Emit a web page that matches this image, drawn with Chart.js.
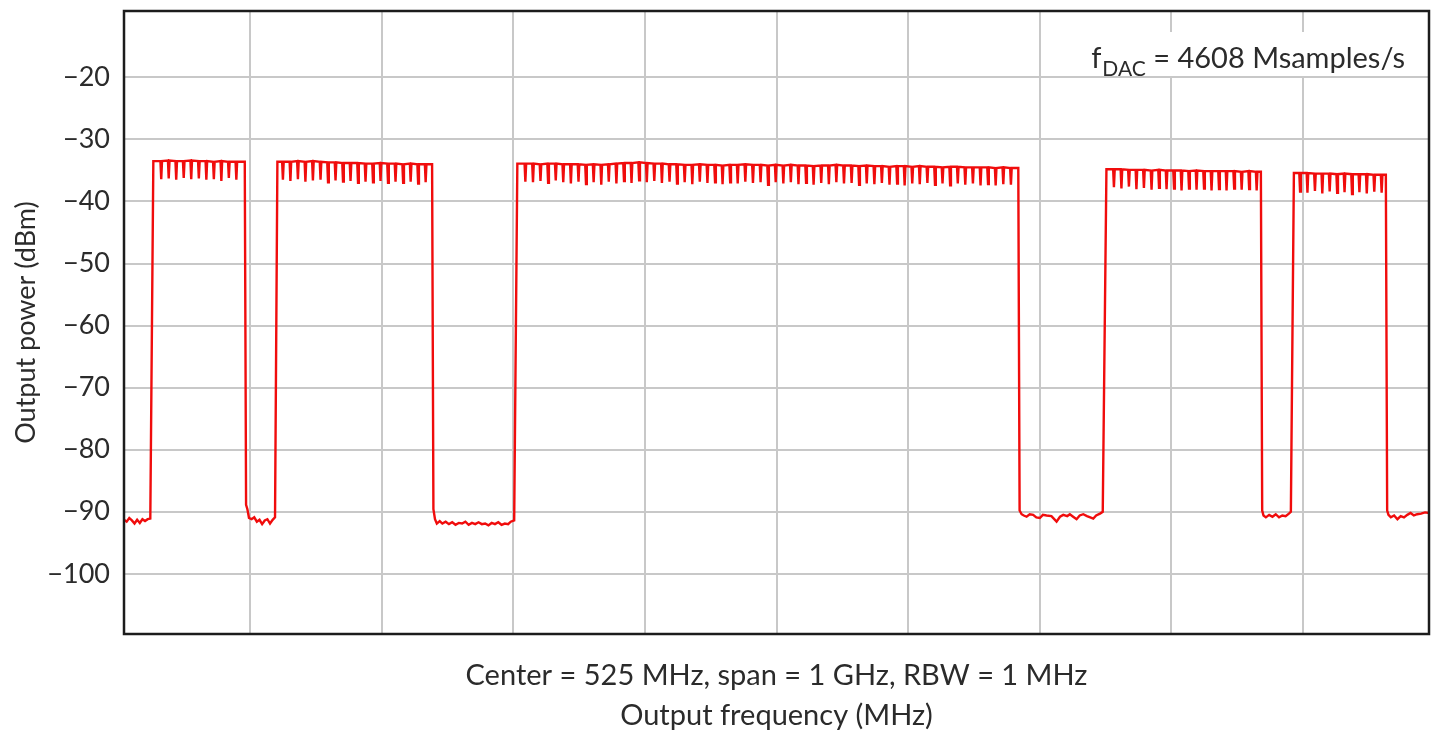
<!DOCTYPE html>
<html>
<head>
<meta charset="utf-8">
<script src="https://cdn.jsdelivr.net/npm/chart.js@4.4.1/dist/chart.umd.min.js"></script>
<style>
  body { margin: 0; background: #fff; }
  .chart-container { position: relative; width: 1440px; height: 738px; }
</style>
</head>
<body>
<div class="chart-container"><canvas id="chart"></canvas></div>
<script>
// axis ticks (MHz / dBm)
const gridFreqs = [125, 225, 325, 425, 525, 625, 725, 825, 925]
const powerTicks = [-100, -90, -80, -70, -60, -50, -40, -30, -20]

const xNote = 'Center = 525 MHz, span = 1 GHz, RBW = 1 MHz'
const xTitle = 'Output frequency (MHz)'
const yTitle = 'Output power (dBm)'
const noteSymbol = 'f'
const noteSub = 'DAC'
const noteText = ' = 4608 Msamples/s'

// noise floor between the carriers: [MHz, dBm]
const floor0 = [[29, -91.3], [31, -91.6], [33, -91.0], [35, -91.4], [37, -91.9], [39, -91.3], [41, -91.8], [43, -91.2], [45, -91.5], [47, -91.2], [49.0, -91.1]]
const floor1 = [[121.8, -88.9], [122.8, -89.6], [124.0, -91.0], [126, -91.2], [128, -90.9], [130, -91.6], [132, -91.3], [134, -92.0], [136, -91.4], [138, -91.2], [140, -91.9], [142, -91.3], [143.8, -90.9]]
const floor2 = [[264.2, -89.6], [265.4, -91.2], [266.8, -91.9], [269, -91.5], [271, -91.9], [273.5, -91.6], [276, -92.0], [278.5, -91.7], [281, -92.1], [283.5, -91.8], [286, -91.9], [288.5, -91.6], [291, -92.1], [293.5, -91.8], [296, -92.0], [298.5, -91.7], [301, -92.0], [303.5, -91.9], [306, -92.2], [308.5, -91.8], [311, -92.0], [313.5, -91.7], [316, -92.1], [318.5, -91.9], [321, -92.0], [323, -91.6], [325.6, -91.4]]
const floor3 = [[709.8, -89.8], [711.3, -90.4], [713, -90.6], [715.1, -90.8], [717.5, -90.4], [720.1, -90.5], [722.5, -90.9], [725.2, -91.0], [727.5, -90.5], [730.3, -90.6], [734, -90.7], [737.9, -91.6], [740.5, -90.8], [743, -90.5], [746, -90.7], [748, -90.4], [750.5, -90.8], [753.1, -91.2], [755.5, -90.6], [758.2, -90.4], [761, -90.7], [763.5, -90.9], [765.8, -91.1], [768, -90.6], [770.9, -90.3], [773.0, -90.0]]
const floor4 = [[894.2, -89.8], [895.2, -90.6], [897, -90.9], [899.5, -90.5], [902, -90.8], [904.5, -90.4], [907, -90.9], [909.5, -90.6], [912, -90.7], [914.5, -90.3], [916.0, -90.0]]
const floor5 = [[989.2, -89.8], [990.2, -90.5], [992, -90.9], [994.5, -90.6], [997, -91.2], [999.5, -90.7], [1002, -90.9], [1004.5, -90.5], [1007, -90.2], [1009.5, -90.6], [1012, -90.4], [1015, -90.3], [1018, -90.1], [1021, -90.2]]

// where each carrier block leaves the floor and where it drops back (MHz)
const bandEdges = [[51.3, 120.8], [145.6, 263.2], [328.0, 708.8], [775.8, 893.2], [918.3, 988.2]]

// comb tones: [MHz, top dBm, dip dBm]
const band1 = [[57.3, -33.5, -36.4], [63.0, -33.4, -36.3], [68.7, -33.5, -36.5], [74.4, -33.5, -36.2], [80.1, -33.4, -36.4], [85.9, -33.5, -36.3], [91.6, -33.5, -36.5], [97.3, -33.6, -36.4], [103.0, -33.5, -36.7], [108.7, -33.6, -36.2], [114.4, -33.6, -36.5]]
const band2 = [[149.8, -33.6, -36.5], [155.5, -33.6, -36.7], [161.2, -33.5, -36.4], [166.9, -33.6, -36.8], [172.6, -33.5, -36.6], [178.4, -33.6, -36.5], [184.1, -33.7, -36.9], [189.8, -33.7, -36.6], [195.5, -33.8, -36.8], [201.2, -33.8, -36.7],
  [206.9, -33.8, -37.0], [212.6, -33.9, -36.8], [218.3, -33.9, -36.9], [224.0, -33.8, -36.7], [229.7, -33.9, -37.0], [235.4, -33.9, -36.8], [241.2, -34.0, -37.0], [246.9, -33.9, -36.8], [252.6, -34.0, -37.1], [258.3, -34.0, -36.9]]
const band3 = [[334.1, -33.9, -36.8], [339.9, -33.9, -36.9], [345.6, -34.0, -36.7], [351.4, -33.9, -37.0], [357.2, -33.9, -36.6], [362.9, -34.0, -36.9], [368.7, -34.0, -37.1], [374.5, -34.0, -36.8], [380.2, -34.1, -37.2], [386.0, -34.0, -36.9],
  [391.8, -34.1, -37.3], [397.5, -34.0, -36.8], [403.3, -33.9, -37.1], [409.1, -33.8, -36.7], [414.8, -33.8, -37.0], [420.6, -33.7, -36.6], [426.4, -33.8, -36.9], [432.1, -33.9, -36.7], [437.9, -33.9, -37.0], [443.7, -34.0, -36.8],
  [449.4, -34.0, -37.1], [455.2, -34.1, -36.9], [461.0, -34.1, -37.2], [466.7, -34.0, -36.8], [472.5, -34.1, -37.0], [478.3, -34.1, -36.9], [484.0, -34.2, -37.2], [489.8, -34.1, -36.9], [495.5, -34.1, -37.1], [501.3, -34.0, -36.8],
  [507.1, -34.1, -37.0], [512.9, -34.1, -36.9], [518.6, -34.2, -37.3], [524.4, -34.1, -36.9], [530.2, -34.2, -37.1], [535.9, -34.1, -36.9], [541.7, -34.2, -37.2], [547.5, -34.2, -37.0], [553.2, -34.3, -37.3], [559.0, -34.2, -37.0],
  [564.8, -34.2, -37.2], [570.5, -34.1, -36.9], [576.3, -34.2, -37.1], [582.1, -34.2, -37.0], [587.8, -34.3, -37.3], [593.6, -34.2, -37.1], [599.4, -34.3, -37.2], [605.1, -34.3, -37.0], [610.9, -34.4, -37.3], [616.7, -34.3, -37.1],
  [622.4, -34.3, -37.4], [628.2, -34.4, -37.1], [633.9, -34.3, -37.2], [639.7, -34.4, -37.0], [645.5, -34.4, -37.3], [651.2, -34.5, -37.1], [657.0, -34.4, -37.4], [662.8, -34.4, -37.1], [668.5, -34.5, -37.3], [674.3, -34.5, -37.1],
  [680.1, -34.5, -37.4], [685.8, -34.5, -37.2], [691.6, -34.6, -37.4], [697.4, -34.5, -37.2], [703.2, -34.6, -37.3]]
const band4 = [[781.5, -34.8, -37.7], [787.2, -34.8, -37.9], [792.9, -34.9, -37.6], [798.6, -34.9, -38.0], [804.3, -34.9, -37.8], [810.1, -35.0, -38.1], [815.8, -34.9, -37.8], [821.5, -35.0, -38.0], [827.2, -35.0, -37.9], [832.9, -35.0, -38.2],
  [838.6, -35.1, -37.9], [844.3, -35.0, -38.1], [850.0, -35.1, -37.9], [855.7, -35.1, -38.2], [861.4, -35.1, -38.0], [867.1, -35.1, -38.2], [872.9, -35.1, -37.9], [878.6, -35.2, -38.1], [884.3, -35.1, -38.0], [890.0, -35.2, -38.2]]
const band5 = [[923.0, -35.4, -38.4], [928.6, -35.4, -38.6], [934.3, -35.5, -38.3], [939.9, -35.5, -38.7], [945.5, -35.5, -38.4], [951.2, -35.6, -38.6], [956.8, -35.5, -38.5], [962.5, -35.6, -38.8], [968.1, -35.6, -38.5], [973.7, -35.6, -38.7],
  [979.4, -35.7, -38.4], [985.0, -35.7, -38.6]]

const floors = [floor0, floor1, floor2, floor3, floor4, floor5]
const bands = [band1, band2, band3, band4, band5]

// stitch floor -> block -> floor ... into one sweep
const trace = []
floors.forEach((floor, i) => {
  floor.forEach(([f, p]) => trace.push({ x: f, y: p }))
  const teeth = bands[i]
  if (!teeth) return
  const [riseF, fallF] = bandEdges[i]
  trace.push({ x: riseF, y: teeth[0][1] })
  teeth.forEach(([f, top, dip]) => {
    trace.push({ x: f - 0.6, y: top }, { x: f, y: dip }, { x: f + 0.6, y: top })
  })
  trace.push({ x: fallF, y: teeth[teeth.length - 1][1] })
})

const FONT = 'Lato, "Noto Sans", sans-serif'
const TEXT = '#2b2b2b'
const GRID = '#c8c8c8'

const framePlugin = {
  id: 'frame',
  afterDraw(chart) {
    const { ctx, chartArea: a } = chart
    ctx.save()
    ctx.strokeStyle = '#1c1c1c'
    ctx.lineWidth = 2.5
    ctx.strokeRect(a.left, a.top, a.right - a.left, a.bottom - a.top)
    ctx.restore()
  },
}

const notePlugin = {
  id: 'fdac',
  beforeDatasetsDraw(chart) {
    const { ctx, chartArea: a } = chart
    const big = `29px ${FONT}`
    const small = `21px ${FONT}`
    ctx.save()
    ctx.font = big
    const wF = ctx.measureText(noteSymbol).width
    const wRest = ctx.measureText(noteText).width
    ctx.font = small
    const wSub = ctx.measureText(noteSub).width
    const right = a.right - 24
    const base = a.top + 57
    const left = right - wF - wSub - wRest - 1
    ctx.fillStyle = '#fff'
    ctx.fillRect(left - 6, a.top + 21, right - left + 14, 44)
    ctx.fillStyle = TEXT
    ctx.textBaseline = 'alphabetic'
    ctx.textAlign = 'left'
    ctx.font = big
    ctx.fillText(noteSymbol, left, base)
    ctx.font = small
    ctx.fillText(noteSub, left + wF + 1, base + 8)
    ctx.font = big
    ctx.fillText(noteText, left + wF + wSub + 1, base)
    ctx.restore()
  },
}

new Chart(document.getElementById('chart'), {
  type: 'scatter',
  data: {
    datasets: [
      {
        label: 'Output power',
        data: trace,
        showLine: true,
        borderColor: '#f00c0c',
        borderWidth: 2.4,
        pointRadius: 0,
        tension: 0,
      },
    ],
  },
  options: {
    responsive: true,
    maintainAspectRatio: false,
    animation: false,
    layout: { padding: { top: 11, right: 11, left: 0, bottom: 0 } },
    plugins: { legend: { display: false }, tooltip: { enabled: false } },
    scales: {
      x: {
        type: 'linear',
        min: 29,
        max: 1021,
        afterBuildTicks: (s) => { s.ticks = gridFreqs.map((v) => ({ value: v })) },
        afterFit: (s) => {
          s.height = 104
          s.paddingLeft = 0
          s.paddingRight = 0
        },
        ticks: { display: false },
        grid: { color: GRID, lineWidth: 2, drawTicks: false },
        border: { display: false },
        title: {
          display: true,
          text: [xNote, xTitle],
          color: TEXT,
          font: { family: FONT, size: 29, lineHeight: 1.38 },
          padding: { top: 0, bottom: 2 },
        },
      },
      y: {
        type: 'linear',
        min: -109.7,
        max: -9.3,
        afterBuildTicks: (s) => { s.ticks = powerTicks.map((v) => ({ value: v })) },
        afterFit: (s) => {
          s.width = 124
          s.paddingTop = 0
          s.paddingBottom = 0
        },
        ticks: {
          color: TEXT,
          padding: 14,
          font: { family: FONT, size: 27 },
          callback: (v) => String(v).replace('-', '\u2212'),
        },
        grid: { color: GRID, lineWidth: 2, drawTicks: false },
        border: { display: false },
        title: {
          display: true,
          text: yTitle,
          color: TEXT,
          font: { family: FONT, size: 27 },
          padding: { top: 10, bottom: 0 },
        },
      },
    },
  },
  plugins: [notePlugin, framePlugin],
})
</script>
</body>
</html>
